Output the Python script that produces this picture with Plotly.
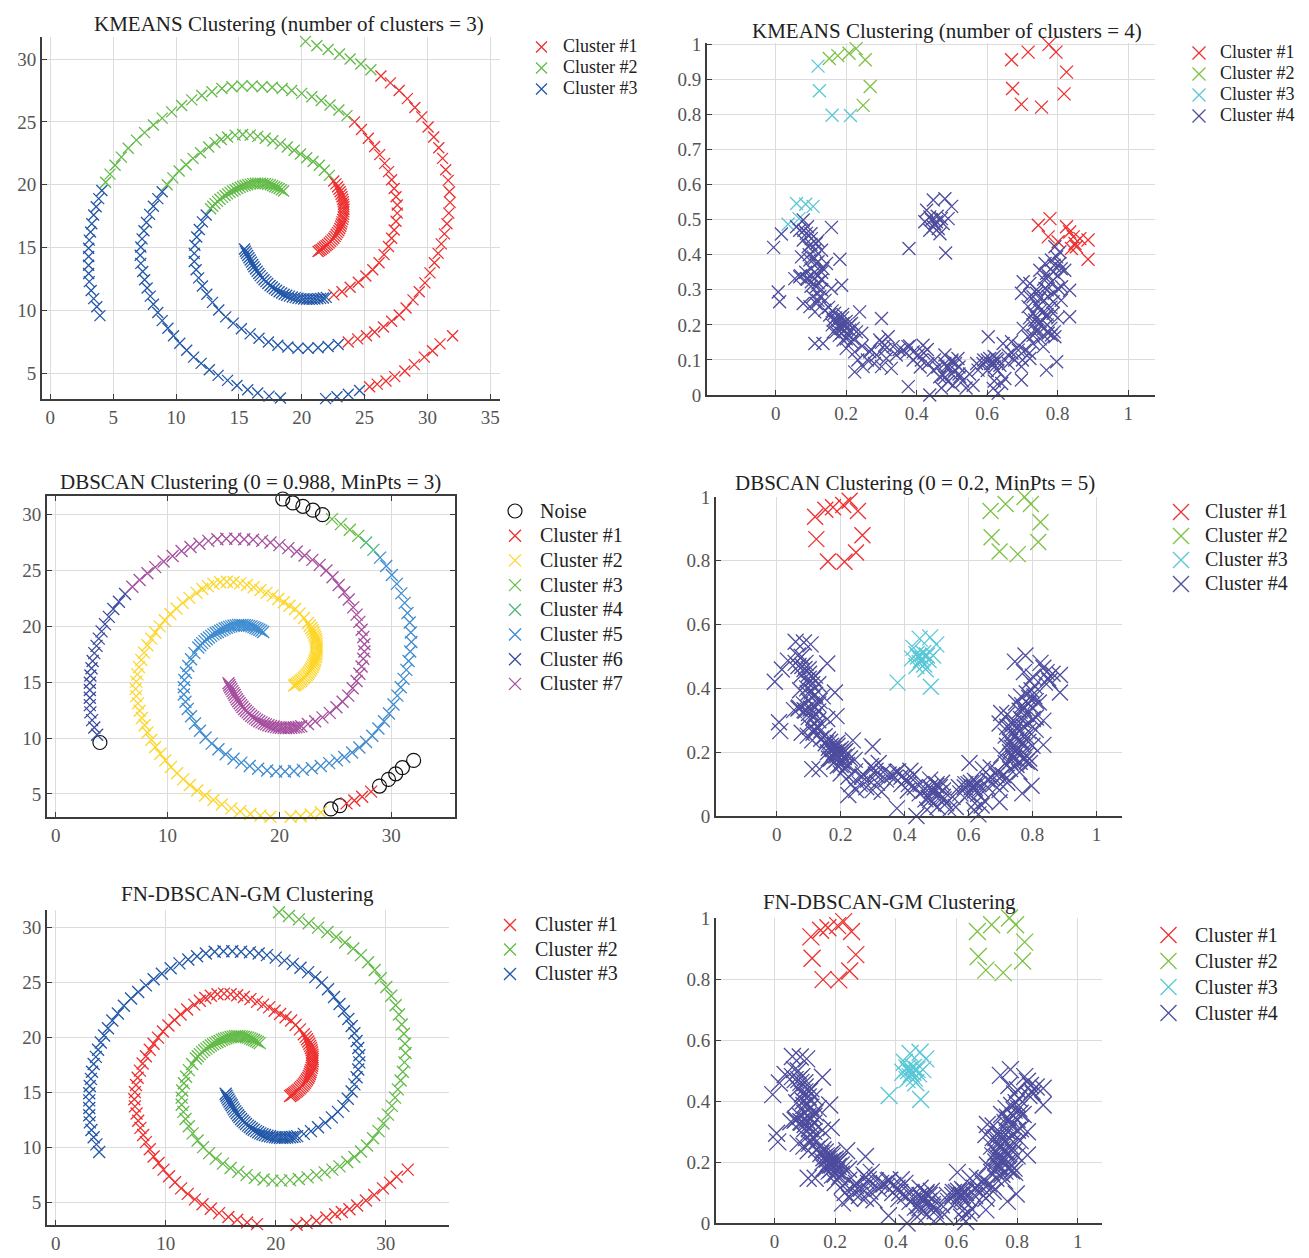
import plotly.graph_objects as go

W, H = 1309, 1258
FONT = "Liberation Serif, Times New Roman, serif"
AXC = "#3c3c3c"
GRID = "#dcdcdc"
TICKC = "#555555"
TXT = "#222222"

# ---------------- spiral data (three arms, ordered outer -> inner) ----------------
R_X = [32.0, 31.0, 30.4, 29.75, 28.95, 28.2, 27.4, 26.7, 26.0, 25.4,
       24.6, 23.7, 22.8, 21.9, 21.0, 20.1, 19.2, 18.3, 17.4, 16.5,
       15.7, 14.85, 14.1, 13.35, 12.65, 12.0, 11.4, 10.85, 10.3, 9.8,
       9.35, 8.9, 8.55, 8.2, 7.95, 7.7, 7.5, 7.35, 7.2, 7.15,
       7.2, 7.3, 7.45, 7.65, 7.9, 8.2, 8.55, 8.9, 9.3, 9.75,
       10.25, 10.8, 11.35, 11.95, 12.6, 13.1, 13.6, 14.1, 14.7, 15.3,
       15.9, 16.5, 17.1, 17.7, 18.3, 18.85, 19.4, 19.9, 20.4, 20.9,
       21.4, 21.8, 22.2,
       22.55, 22.72, 22.85, 22.96, 23.05, 23.13, 23.2, 23.26, 23.3, 23.33,
       23.35, 23.36, 23.35, 23.33, 23.3, 23.26, 23.2, 23.15, 23.1, 23.03,
       22.95, 22.85, 22.75, 22.65, 22.55, 22.43, 22.3, 22.18, 22.05, 21.93,
       21.8, 21.68, 21.55, 21.43, 21.3]
R_Y = [8.0, 7.35, 6.8, 6.3, 5.7, 5.2, 4.75, 4.4, 4.15, 3.95,
       3.65, 3.35, 3.15, 3.0, 2.95, 2.9, 2.95, 3.05, 3.2, 3.45,
       3.7, 4.05, 4.45, 4.85, 5.3, 5.8, 6.3, 6.85, 7.4, 8.0,
       8.6, 9.2, 9.85, 10.5, 11.15, 11.8, 12.45, 13.1, 13.75, 14.4,
       15.05, 15.7, 16.35, 17.0, 17.65, 18.3, 18.9, 19.45, 20.0, 20.55,
       21.1, 21.6, 22.1, 22.55, 23.0, 23.35, 23.6, 23.8, 23.95, 24.0,
       23.95, 23.85, 23.7, 23.5, 23.25, 23.0, 22.75, 22.45, 22.15, 21.85,
       21.55, 21.15, 20.75,
       20.3, 20.07, 19.85, 19.65, 19.45, 19.25, 19.05, 18.85, 18.65, 18.45,
       18.25, 18.05, 17.85, 17.65, 17.45, 17.25, 17.05, 16.88, 16.7, 16.52,
       16.35, 16.2, 16.05, 15.9, 15.75, 15.62, 15.5, 15.37, 15.25, 15.15,
       15.05, 14.95, 14.85, 14.77, 14.7]

G_X = [19.3, 20.3, 21.2, 22.1, 23.0, 23.85, 24.7, 25.5, 26.3, 27.05,
       27.75, 28.4, 29.0, 29.55, 30.05, 30.5, 30.9, 31.2, 31.45, 31.65,
       31.75, 31.8, 31.7, 31.55, 31.35, 31.1, 30.85, 30.55, 30.2, 29.8,
       29.35, 28.85, 28.3, 27.75, 27.15, 26.5, 25.8, 25.15, 24.45, 23.7,
       22.9, 22.1, 21.3, 20.5, 19.7, 18.9, 18.1, 17.35, 16.6, 15.9,
       15.2, 14.55, 13.95, 13.4, 12.9, 12.45, 12.1, 11.8, 11.6, 11.45,
       11.45, 11.5, 11.65, 11.85, 12.1, 12.4,
       12.75, 12.92, 13.1, 13.3, 13.5, 13.7, 13.9, 14.1, 14.3, 14.5,
       14.7, 14.9, 15.1, 15.3, 15.5, 15.7, 15.9, 16.1, 16.3, 16.5,
       16.7, 16.9, 17.1, 17.3, 17.5, 17.68, 17.85, 18.03, 18.2, 18.38,
       18.55]
G_Y = [31.8, 31.4, 31.05, 30.75, 30.4, 30.0, 29.6, 29.15, 28.65, 28.1,
       27.5, 26.85, 26.15, 25.4, 24.6, 23.8, 22.95, 22.1, 21.2, 20.35,
       19.45, 18.6, 17.75, 16.9, 16.1, 15.3, 14.55, 13.8, 13.0, 12.2,
       11.5, 10.85, 10.2, 9.65, 9.15, 8.7, 8.3, 8.0, 7.75, 7.5,
       7.3, 7.15, 7.05, 7.0, 7.0, 7.1, 7.25, 7.5, 7.8, 8.15,
       8.55, 9.0, 9.5, 10.05, 10.65, 11.3, 11.95, 12.6, 13.25, 13.9,
       14.55, 15.2, 15.85, 16.45, 17.05, 17.6,
       18.1, 18.3, 18.5, 18.68, 18.85, 19.0, 19.15, 19.28, 19.4, 19.5,
       19.6, 19.7, 19.8, 19.88, 19.95, 20.0, 20.05, 20.09, 20.12, 20.13,
       20.12, 20.1, 20.08, 20.04, 20.0, 19.93, 19.85, 19.78, 19.7, 19.6,
       19.5]

B_X = [3.95, 3.7, 3.45, 3.25, 3.1, 3.05, 3.05, 3.05, 3.05, 3.1,
       3.2, 3.3, 3.45, 3.65, 3.85, 4.1, 4.4, 4.75, 5.15, 5.65,
       6.2, 6.85, 7.5, 8.2, 8.9, 9.65, 10.45, 11.25, 12.05, 12.85,
       13.65, 14.45, 15.25, 16.05, 16.85, 17.65, 18.45, 19.2, 20.0, 20.8,
       21.55, 22.25, 22.95, 23.6, 24.2, 24.75, 25.3, 25.8, 26.2, 26.6,
       26.9, 27.15, 27.35, 27.5, 27.6, 27.6, 27.5, 27.35, 27.15, 26.9,
       26.55, 26.15, 25.65, 25.1, 24.5, 23.85, 23.2, 22.55,
       21.95, 21.72, 21.5, 21.28, 21.05, 20.83, 20.6, 20.38, 20.15, 19.93,
       19.7, 19.48, 19.25, 19.02, 18.8, 18.6, 18.4, 18.2, 18.0, 17.82,
       17.65, 17.48, 17.3, 17.15, 17.0, 16.85, 16.7, 16.58, 16.45, 16.32,
       16.2, 16.1, 16.0, 15.9, 15.8, 15.7, 15.6, 15.52, 15.45]
B_Y = [9.6, 10.3, 10.95, 11.6, 12.3, 12.95, 13.6, 14.3, 14.95, 15.6,
       16.25, 16.9, 17.6, 18.25, 18.9, 19.55, 20.2, 20.85, 21.55, 22.2,
       22.9, 23.55, 24.15, 24.75, 25.3, 25.8, 26.3, 26.75, 27.1, 27.4,
       27.65, 27.8, 27.85, 27.85, 27.8, 27.75, 27.65, 27.5, 27.27, 27.0,
       26.7, 26.35, 25.95, 25.5, 25.0, 24.4, 23.7, 23.05, 22.4, 21.7,
       21.05, 20.4, 19.7, 19.05, 18.4, 17.75, 17.1, 16.4, 15.75, 15.1,
       14.45, 13.8, 13.25, 12.75, 12.25, 11.85, 11.5, 11.25,
       11.05, 11.0, 10.97, 10.94, 10.92, 10.9, 10.9, 10.9, 10.92, 10.95,
       10.98, 11.03, 11.08, 11.15, 11.22, 11.3, 11.4, 11.5, 11.62, 11.74,
       11.87, 12.0, 12.15, 12.3, 12.45, 12.6, 12.78, 12.95, 13.12, 13.3,
       13.48, 13.66, 13.85, 14.02, 14.2, 14.38, 14.55, 14.72, 14.9]

# cluster labels along each arm as (label, count) runs; 0 = noise
KM_RUNS = {"R": [(1, 10), (3, 38), (2, 25), (1, 35)],
           "G": [(2, 8), (1, 32), (3, 26), (2, 31)],
           "B": [(3, 16), (2, 28), (1, 24), (3, 39)]}
DB_RUNS = {"R": [(0, 5), (1, 4), (0, 2), (2, 97)],
           "G": [(0, 6), (3, 4), (4, 2), (5, 85)],
           "B": [(0, 1), (6, 20), (7, 86)]}
FN_RUNS = {"R": [(1, 108)], "G": [(2, 97)], "B": [(3, 107)]}

# ---------------- smiley data ----------------
EYE_L = [(0.12, 0.938), (0.152, 0.96), (0.176, 0.968), (0.208, 0.975), (0.228, 0.988),
         (0.254, 0.956), (0.268, 0.88), (0.248, 0.826), (0.212, 0.797), (0.16, 0.798),
         (0.124, 0.868)]
EYE_L_KM = [3, 2, 2, 2, 2, 2, 2, 2, 3, 3, 3]
EYE_R = [(0.669, 0.956), (0.716, 0.978), (0.775, 1.0), (0.795, 0.978), (0.825, 0.921),
         (0.818, 0.859), (0.754, 0.821), (0.697, 0.829), (0.672, 0.874)]
NOSE = [(0.447, 0.556), (0.48, 0.56), (0.499, 0.538), (0.428, 0.527), (0.437, 0.508),
        (0.456, 0.494), (0.47, 0.503), (0.489, 0.503), (0.447, 0.48), (0.461, 0.475),
        (0.437, 0.47), (0.466, 0.46), (0.423, 0.494), (0.451, 0.489), (0.475, 0.489),
        (0.458, 0.51), (0.442, 0.5), (0.378, 0.418), (0.482, 0.405)]
MOUTH_UL = [(0.059, 0.546), (0.085, 0.544), (0.106, 0.538), (0.066, 0.503), (0.035, 0.487)]
MOUTH_UR = [(0.745, 0.484), (0.778, 0.503), (0.773, 0.451), (0.801, 0.437), (0.825, 0.48),
            (0.834, 0.465), (0.844, 0.451), (0.863, 0.446), (0.886, 0.442), (0.849, 0.432),
            (0.839, 0.418), (0.853, 0.423), (0.886, 0.387)]
MOUTH = [(-0.006, 0.421), (0.016, 0.459), (0.059, 0.48), (0.078, 0.499), (0.068, 0.47),
         (0.087, 0.461), (0.101, 0.446), (0.078, 0.442), (0.115, 0.432), (0.092, 0.423),
         (0.111, 0.413), (0.13, 0.413), (0.158, 0.478), (0.182, 0.387), (0.073, 0.394),
         (0.097, 0.385), (0.115, 0.375), (0.134, 0.361), (0.144, 0.375), (0.054, 0.332),
         (0.068, 0.337), (0.087, 0.332), (0.106, 0.337), (0.12, 0.342), (0.101, 0.323),
         (0.115, 0.309), (0.13, 0.328), (0.187, 0.313), (0.158, 0.304), (0.007, 0.294),
         (0.011, 0.266), (0.078, 0.261), (0.097, 0.252), (0.115, 0.261), (0.111, 0.237),
         (0.125, 0.28), (0.139, 0.242), (0.153, 0.228), (0.167, 0.233), (0.182, 0.223),
         (0.163, 0.214), (0.191, 0.204), (0.177, 0.195), (0.2, 0.19), (0.215, 0.204),
         (0.238, 0.237), (0.3, 0.218), (0.163, 0.18), (0.187, 0.176), (0.205, 0.171),
         (0.229, 0.18), (0.244, 0.176), (0.111, 0.147), (0.134, 0.147), (0.191, 0.157),
         (0.215, 0.152), (0.2, 0.133), (0.224, 0.123), (0.233, 0.1), (0.224, 0.066),
         (0.248, 0.081), (0.267, 0.123), (0.286, 0.114), (0.295, 0.157), (0.309, 0.142),
         (0.319, 0.166), (0.333, 0.138), (0.3, 0.081), (0.328, 0.076), (0.314, 0.104),
         (0.342, 0.114), (0.361, 0.128), (0.375, 0.138), (0.39, 0.123), (0.376, 0.024),
         (0.404, 0.114), (0.418, 0.142), (0.413, 0.1), (0.432, 0.09), (0.437, 0.0),
         (0.447, 0.071), (0.465, 0.052), (0.48, 0.114), (0.484, 0.081), (0.499, 0.095),
         (0.508, 0.071), (0.489, 0.038), (0.503, 0.028), (0.517, 0.104), (0.522, 0.052),
         (0.475, 0.057), (0.56, 0.028), (0.574, 0.071), (0.588, 0.09), (0.603, 0.166),
         (0.607, 0.104), (0.617, 0.09), (0.626, 0.104), (0.636, 0.085), (0.617, 0.019),
         (0.631, 0.005), (0.641, 0.033), (0.65, 0.047), (0.645, 0.147), (0.659, 0.114),
         (0.669, 0.152), (0.678, 0.1), (0.688, 0.128), (0.697, 0.043), (0.697, 0.081),
         (0.707, 0.128), (0.702, 0.19), (0.716, 0.166), (0.721, 0.104), (0.73, 0.147),
         (0.74, 0.185), (0.735, 0.214), (0.749, 0.204), (0.759, 0.138), (0.768, 0.071),
         (0.773, 0.176), (0.782, 0.171), (0.797, 0.095), (0.792, 0.166), (0.716, 0.252),
         (0.73, 0.233), (0.744, 0.252), (0.759, 0.237), (0.768, 0.223), (0.787, 0.233),
         (0.834, 0.223), (0.697, 0.29), (0.702, 0.323), (0.721, 0.28), (0.74, 0.29),
         (0.749, 0.275), (0.764, 0.304), (0.773, 0.28), (0.787, 0.266), (0.801, 0.304),
         (0.811, 0.309), (0.834, 0.299), (0.749, 0.356), (0.764, 0.375), (0.768, 0.347),
         (0.782, 0.385), (0.787, 0.351), (0.797, 0.394), (0.806, 0.375), (0.82, 0.356),
         (0.806, 0.408), (0.792, 0.423), (0.773, 0.337), (0.721, 0.318),
         (0.09, 0.48), (0.1, 0.46), (0.12, 0.44), (0.095, 0.40), (0.12, 0.38),
         (0.085, 0.35), (0.1, 0.36), (0.13, 0.30), (0.105, 0.28), (0.14, 0.27),
         (0.15, 0.25), (0.16, 0.2), (0.175, 0.21), (0.19, 0.22), (0.2, 0.2),
         (0.21, 0.185), (0.22, 0.16), (0.185, 0.19), (0.17, 0.18), (0.245, 0.14),
         (0.26, 0.1), (0.27, 0.13), (0.28, 0.09), (0.35, 0.13), (0.37, 0.12),
         (0.38, 0.14), (0.39, 0.1), (0.42, 0.12), (0.45, 0.1), (0.46, 0.08),
         (0.5, 0.06), (0.51, 0.09), (0.53, 0.04), (0.52, 0.08), (0.55, 0.06),
         (0.57, 0.09), (0.6, 0.07), (0.59, 0.1), (0.62, 0.11), (0.63, 0.07),
         (0.66, 0.09), (0.67, 0.12), (0.69, 0.14), (0.7, 0.1), (0.72, 0.12),
         (0.73, 0.17), (0.75, 0.16), (0.76, 0.19), (0.74, 0.22), (0.77, 0.2),
         (0.78, 0.25), (0.76, 0.27), (0.79, 0.29), (0.78, 0.32), (0.8, 0.34),
         (0.79, 0.37), (0.81, 0.36), (0.76, 0.33), (0.74, 0.3), (0.72, 0.22),
         (0.79, 0.18), (0.8, 0.22), (0.81, 0.27), (0.43, 0.13), (0.41, 0.08),
         (0.48, 0.05), (0.47, 0.02), (0.54, 0.02), (0.62, 0.04),
         (0.07, 0.34), (0.09, 0.33), (0.11, 0.35), (0.1, 0.31), (0.12, 0.32),
         (0.08, 0.47), (0.1, 0.43), (0.11, 0.39), (0.13, 0.35), (0.12, 0.27),
         (0.17, 0.22), (0.18, 0.2), (0.19, 0.19), (0.2, 0.21), (0.21, 0.2),
         (0.18, 0.17), (0.2, 0.16), (0.22, 0.19), (0.19, 0.23), (0.16, 0.24),
         (0.73, 0.2), (0.74, 0.18), (0.75, 0.21), (0.76, 0.17), (0.77, 0.23),
         (0.74, 0.26), (0.75, 0.24), (0.78, 0.19), (0.73, 0.28), (0.77, 0.3),
         (0.49, 0.08), (0.5, 0.1), (0.52, 0.06), (0.48, 0.09), (0.61, 0.09),
         (0.63, 0.1), (0.62, 0.08), (0.6, 0.1), (0.31, 0.13), (0.3, 0.15)]

# ---------------- colours ----------------
SP_COL = {1: "#ee2f2f", 2: "#62ba47", 3: "#2257a8"}
DB_COL = {1: "#ee2f2f", 2: "#fdd62a", 3: "#68bb45", 4: "#4fb87a", 5: "#3f8cd0",
          6: "#3a4c9f", 7: "#a64f9f"}
SM_COL = {1: "#ee2f2f", 2: "#7cc243", 3: "#58c7d6", 4: "#4d4c9e"}

TITLES = ["KMEANS Clustering (number of clusters = 3)",
          "KMEANS Clustering (number of clusters = 4)",
          "DBSCAN Clustering (0 = 0.988, MinPts = 3)",
          "DBSCAN Clustering (0 = 0.2, MinPts = 5)",
          "FN-DBSCAN-GM Clustering",
          "FN-DBSCAN-GM Clustering"]


def expand(runs):
    out = []
    for lab, n in runs:
        out += [lab] * n
    return out


def legname_text(s, size):
    return '<span style="font-size:%dpx">%s</span>' % (size, s)


fig = go.Figure()

SPIRALS = [(R_X, R_Y, "R"), (G_X, G_Y, "G"), (B_X, B_Y, "B")]


def add_spiral(runs, labels_order, colors, axn, legname, msize, tsize):
    lab = {k: expand(v) for k, v in runs.items()}
    for c in labels_order:
        xs, ys = [], []
        for X, Y, k in SPIRALS:
            for xv, yv, l in zip(X, Y, lab[k]):
                if l == c:
                    xs.append(xv)
                    ys.append(yv)
        if c == 0:
            mk = dict(symbol="circle-open", size=msize + 2, color="#111111",
                      line=dict(width=1.2, color="#111111"))
            name = "Noise"
        else:
            mk = dict(symbol="x-thin", size=msize, color=colors[c],
                      line=dict(width=1.3, color=colors[c]))
            name = "Cluster #%d" % c
        fig.add_trace(go.Scatter(x=xs, y=ys, mode="markers", marker=mk,
                                 name=legname_text(name, tsize),
                                 xaxis="x" + axn, yaxis="y" + axn, legend=legname,
                                 cliponaxis=False, hoverinfo="x+y"))


def add_smiley(groups, labels_order, colors, axn, legname, msize, tsize):
    for c in labels_order:
        xs, ys = [], []
        for pts, labs in groups:
            for (xv, yv), l in zip(pts, labs):
                if l == c:
                    xs.append(xv)
                    ys.append(yv)
        mk = dict(symbol="x-thin", size=msize, color=colors[c],
                  line=dict(width=1.3, color=colors[c]))
        fig.add_trace(go.Scatter(x=xs, y=ys, mode="markers", marker=mk,
                                 name=legname_text("Cluster #%d" % c, tsize),
                                 xaxis="x" + axn, yaxis="y" + axn, legend=legname,
                                 cliponaxis=False, hoverinfo="x+y"))


# panel order: "" top-left, 2 top-right, 3 mid-left, 4 mid-right, 5 bottom-left, 6 bottom-right
add_spiral(KM_RUNS, [1, 2, 3], SP_COL, "", "legend", 11, 18)
km_groups = [(EYE_L, EYE_L_KM), (EYE_R, [1] * len(EYE_R)), (NOSE, [4] * len(NOSE)),
             (MOUTH_UL, [3] * len(MOUTH_UL)), (MOUTH_UR, [1] * len(MOUTH_UR)),
             (MOUTH, [4] * len(MOUTH))]
add_smiley(km_groups, [1, 2, 3, 4], SM_COL, "2", "legend2", 13, 18)
add_spiral(DB_RUNS, [0, 1, 2, 3, 4, 5, 6, 7], DB_COL, "3", "legend3", 12, 20)
db_groups = [(EYE_L, [1] * len(EYE_L)), (EYE_R, [2] * len(EYE_R)), (NOSE, [3] * len(NOSE)),
             (MOUTH_UL, [4] * len(MOUTH_UL)), (MOUTH_UR, [4] * len(MOUTH_UR)),
             (MOUTH, [4] * len(MOUTH))]
add_smiley(db_groups, [1, 2, 3, 4], SM_COL, "4", "legend4", 16, 20)
add_spiral(FN_RUNS, [1, 2, 3], SP_COL, "5", "legend5", 12, 20)
add_smiley(db_groups, [1, 2, 3, 4], SM_COL, "6", "legend6", 17, 20)


def dom_x(a, b):
    return [a / W, b / W]


def dom_y(top, bottom):
    return [1 - bottom / H, 1 - top / H]


def axis(dom, rng, dtick, anchor, mirror=False):
    return dict(domain=dom, range=rng, dtick=dtick, tick0=0, anchor=anchor,
                showline=True, linecolor=AXC, linewidth=2,
                mirror=("ticks" if mirror else False), automargin=False,
                ticks="inside", ticklen=5, tickwidth=1, tickcolor=AXC,
                showgrid=True, gridcolor=GRID, gridwidth=1, zeroline=False,
                tickfont=dict(family=FONT, size=19, color=TICKC), fixedrange=True)


layout = dict(width=W, height=H, margin=dict(l=0, r=0, t=0, b=0, autoexpand=False),
              paper_bgcolor="white", plot_bgcolor="white", showlegend=True,
              font=dict(family=FONT, color=TXT))

# panel geometry in pixels
P = {
    "": dict(x=(42, 500), y=(37, 399), xr=[-0.66, 35.77], yr=[2.97, 31.75], dx=5, dy=5, m=False),
    "2": dict(x=(707, 1155), y=(43, 395), xr=[-0.195, 1.076], yr=[0, 1.004], dx=0.2, dy=0.1, m=False),
    "3": dict(x=(47, 455), y=(496, 817), xr=[-0.78, 35.7], yr=[2.93, 31.67], dx=10, dy=5, m=True),
    "4": dict(x=(716, 1122), y=(497, 816), xr=[-0.19, 1.08], yr=[0, 1.0], dx=0.2, dy=0.2, m=False),
    "5": dict(x=(47, 449), y=(910, 1225), xr=[-0.79, 35.75], yr=[2.97, 31.6], dx=10, dy=5, m=False),
    "6": dict(x=(716, 1102), y=(918, 1223), xr=[-0.193, 1.08], yr=[0, 1.0], dx=0.2, dy=0.2, m=False),
}
for k, p in P.items():
    layout["xaxis" + k] = axis(dom_x(*p["x"]), p["xr"], p["dx"], "y" + k, p["m"])
    layout["yaxis" + k] = axis(dom_y(*p["y"]), p["yr"], p["dy"], "x" + k, p["m"])

# legends: (marker centre x px, first entry centre y px, row spacing px, text offset px)
LEG = {"legend": (540, 47, 21, 23), "legend2": (1198, 53, 21, 22),
       "legend3": (510, 511, 24.7, 30), "legend4": (1177, 512, 24, 28),
       "legend5": (505, 925, 24.5, 30), "legend6": (1162, 935, 26, 33)}
for name, (mx, my, sp, toff) in LEG.items():
    fs = max((sp - 3) / 1.3, 8)
    layout[name] = dict(x=(mx - 20) / W, y=1 - (my - sp / 2 - 5) / H, xanchor="left",
                        yanchor="top", bgcolor="rgba(0,0,0,0)", borderwidth=0,
                        font=dict(family=FONT, size=fs, color=TXT),
                        itemwidth=max(30, toff + 10),
                        itemclick=False, itemdoubleclick=False)

# titles: (centre x px, centre y px)
TPOS = [(289, 24), (947, 31), (250, 482), (915, 483), (248, 894), (889, 902)]
layout["annotations"] = [dict(text=t, x=cx / W, y=1 - cy / H, xref="paper", yref="paper",
                              xanchor="center", yanchor="middle", showarrow=False,
                              font=dict(family=FONT, size=21, color=TXT))
                         for t, (cx, cy) in zip(TITLES, TPOS)]

fig.update_layout(**layout)
fig.write_html("out.html", config={"displayModeBar": False},
               post_script="document.body.style.margin='0px';")
